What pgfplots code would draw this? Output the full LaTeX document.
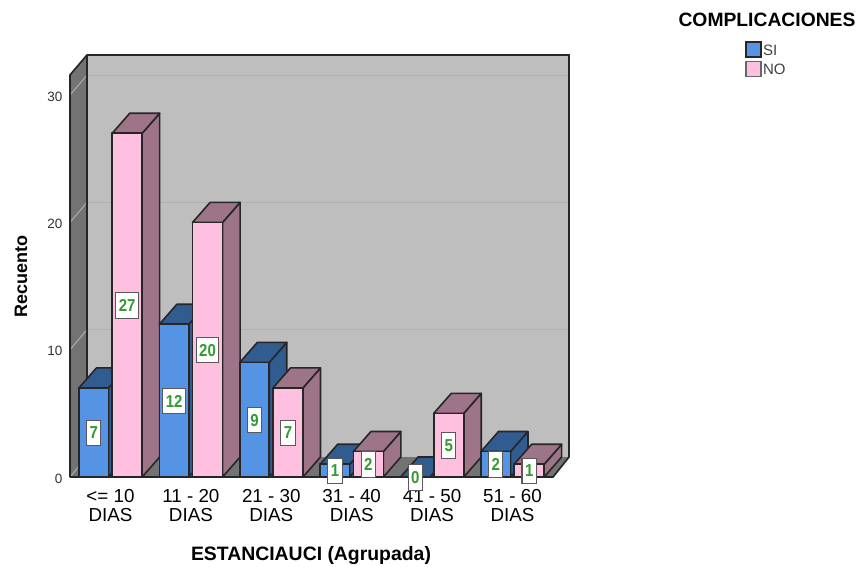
\documentclass[border=0pt]{standalone}
\usepackage{fontspec}
\setmainfont{Liberation Sans}
\usepackage{pgfplots}
\pgfplotsset{compat=1.18}

\definecolor{wallback}{HTML}{BEBEBE}
\definecolor{wallside}{HTML}{737373}
\definecolor{gridback}{HTML}{B0B0B0}
\definecolor{gridside}{HTML}{A8A8A8}
\definecolor{edge}{HTML}{262626}
\definecolor{sifront}{HTML}{5594E4}
\definecolor{sishade}{HTML}{305C90}
\definecolor{nofront}{HTML}{FFC0E0}
\definecolor{noshade}{HTML}{9E7488}
\definecolor{labelgreen}{HTML}{339933}

% depth of the oblique projection, in axis units
\def\dpx{0.2177}
\def\dpy{1.571}

% one solid bar: category, value, left and right offset, front and shade colours
\newcommand{\solidbar}[6]{%
  \pgfmathsetmacro\xl{#1+#3}%
  \pgfmathsetmacro\xr{#1+#4}%
  \pgfmathsetmacro\xlb{\xl+\dpx}%
  \pgfmathsetmacro\xrb{\xr+\dpx}%
  \pgfmathsetmacro\ytop{#2+\dpy}%
  \edef\temp{%
    \noexpand\addplot[forget plot, fill=#6, draw=edge, line width=1.6pt, line join=round]
      coordinates {(\xr,0) (\xrb,\dpy) (\xrb,\ytop) (\xr,#2)} -- cycle;
    \noexpand\addplot[forget plot, fill=#6, draw=edge, line width=1.6pt, line join=round]
      coordinates {(\xl,#2) (\xr,#2) (\xrb,\ytop) (\xlb,\ytop)} -- cycle;
    \noexpand\addplot[forget plot, fill=#5, draw=edge, line width=1.6pt, line join=round]
      coordinates {(\xl,0) (\xr,0) (\xr,#2) (\xl,#2)} -- cycle;
  }\temp
}
\newcommand{\barsi}[2]{\solidbar{#1}{#2}{-0.392}{-0.025}{sifront}{sishade}}
\newcommand{\barno}[2]{\solidbar{#1}{#2}{0.021}{0.394}{nofront}{noshade}}

% value box in the middle of a bar's front face
\newcommand{\valuebox}[3]{%
  \pgfmathsetmacro\xc{#1+#3}%
  \pgfmathsetmacro\yc{#2/2}%
  \edef\temp{\noexpand\node[valuelabel] at (axis cs:\xc,\yc) {\noexpand\scalebox{1}[1.15]{#2}};}\temp
}

\begin{document}
\begin{tikzpicture}[
  valuelabel/.style={draw=black!65, fill=white, line width=1.1pt, minimum height=25.6pt,
    minimum width=14pt, inner xsep=3pt, inner ysep=0pt, text=labelgreen, yshift=-0.4pt,
    font=\fontsize{15}{15}\selectfont\bfseries}
]
\useasboundingbox (-70pt,-89pt) rectangle (788pt,477pt);
\begin{axis}[
  scale only axis, width=499pt, height=422pt,
  xmin=-0.5037, xmax=5.703, ymin=0, ymax=33.15,
  clip=false,
  axis line style={draw=none},
  major tick length=0pt,
  /pgf/number format/assume math mode=true,
  ytick={0,10,20,30},
  yticklabel style={font=\fontsize{13.5}{14}\selectfont, text=black!80, anchor=east, xshift=-4pt, yshift=-1.5pt},
  xtick={0,1,2,3,4,5},
  xticklabels={{<= 10\\DIAS},{11 - 20\\DIAS},{21 - 30\\DIAS},{31 - 40\\DIAS},{41 - 50\\DIAS},{51 - 60\\DIAS}},
  xticklabel style={font=\fontsize{18.8}{19}\selectfont, align=center, anchor=north, yshift=-9pt},
  xlabel={ESTANCIAUCI (Agrupada)},
  ylabel={Recuento},
  x label style={at={(axis description cs:0.483,-0.187)}, anchor=center, font=\fontsize{19.4}{20}\selectfont\bfseries},
  y label style={at={(axis description cs:-0.098,0.474)}, anchor=center, font=\fontsize{18}{18}\selectfont\bfseries},
  legend style={at={(axis description cs:1.353,1.0327)}, anchor=north west, draw=none, fill=none,
    inner sep=0pt, row sep=3pt, font=\fontsize{15}{15}\selectfont, text=black!75,
    cells={anchor=west}, nodes={inner sep=1.5pt}},
  legend image code/.code={\draw[#1] (0pt,-6.5pt) rectangle (15pt,8.5pt);},
]
\addlegendimage{fill=sifront, draw=edge, line width=1.3pt}
\addlegendentry{SI}
\addlegendimage{fill=nofront, draw=black!60, line width=1.3pt}
\addlegendentry{NO}

% left wall, floor and back wall
\addplot[forget plot, fill=wallside, draw=none] coordinates {(-0.5037,0) (-0.2923,1.571) (-0.2923,33.15) (-0.5037,31.579)} -- cycle;
\addplot[forget plot, fill=wallside, draw=none] coordinates {(-0.5037,0) (5.504,0) (5.703,1.571) (-0.2923,1.571)} -- cycle;
\addplot[forget plot, fill=wallback, draw=none] coordinates {(-0.2923,1.571) (5.703,1.571) (5.703,33.15) (-0.2923,33.15)} -- cycle;

% gridlines running over the left wall and the back wall
\addplot[forget plot, gridside, line width=1.1pt] coordinates {(-0.5037,0) (-0.2923,1.571)};
\addplot[forget plot, gridside, line width=1.1pt] coordinates {(-0.5037,10) (-0.2923,11.571)};
\addplot[forget plot, gridside, line width=1.1pt] coordinates {(-0.5037,20) (-0.2923,21.571)};
\addplot[forget plot, gridside, line width=1.1pt] coordinates {(-0.5037,30) (-0.2923,31.571)};
\addplot[forget plot, gridback, line width=1.2pt] coordinates {(-0.2923,11.571) (5.703,11.571)};
\addplot[forget plot, gridback, line width=1.2pt] coordinates {(-0.2923,21.571) (5.703,21.571)};
\addplot[forget plot, gridback, line width=1.2pt] coordinates {(-0.2923,31.571) (5.703,31.571)};

% outline of the walls and the floor
\addplot[forget plot, edge, line width=1.7pt] coordinates {(-0.5037,0) (-0.5037,31.579) (-0.2923,33.15) (5.703,33.15) (5.703,1.571) (5.504,0) (-0.5037,0)};
\addplot[forget plot, edge, line width=1.4pt] coordinates {(-0.2923,1.571) (-0.2923,33.15)};

% counts per stay group: SI, NO
\barsi{0}{7}  \barno{0}{27}
\barsi{1}{12} \barno{1}{20}
\barsi{2}{9}  \barno{2}{7}
\barsi{3}{1}  \barno{3}{2}
\barsi{4}{0}  \barno{4}{5}
\barsi{5}{2}  \barno{5}{1}

\valuebox{0}{7}{-0.2085}  \valuebox{0}{27}{0.2075}
\valuebox{1}{12}{-0.2085} \valuebox{1}{20}{0.2075}
\valuebox{2}{9}{-0.2085}  \valuebox{2}{7}{0.2075}
\valuebox{3}{1}{-0.2085}  \valuebox{3}{2}{0.2075}
\valuebox{4}{0}{-0.2085}  \valuebox{4}{5}{0.2075}
\valuebox{5}{2}{-0.2085}  \valuebox{5}{1}{0.2075}

\node[font=\fontsize{19.3}{20}\selectfont\bfseries, anchor=center] at (axis description cs:1.3968,1.083) {COMPLICACIONES};
\end{axis}
\end{tikzpicture}
\end{document}
